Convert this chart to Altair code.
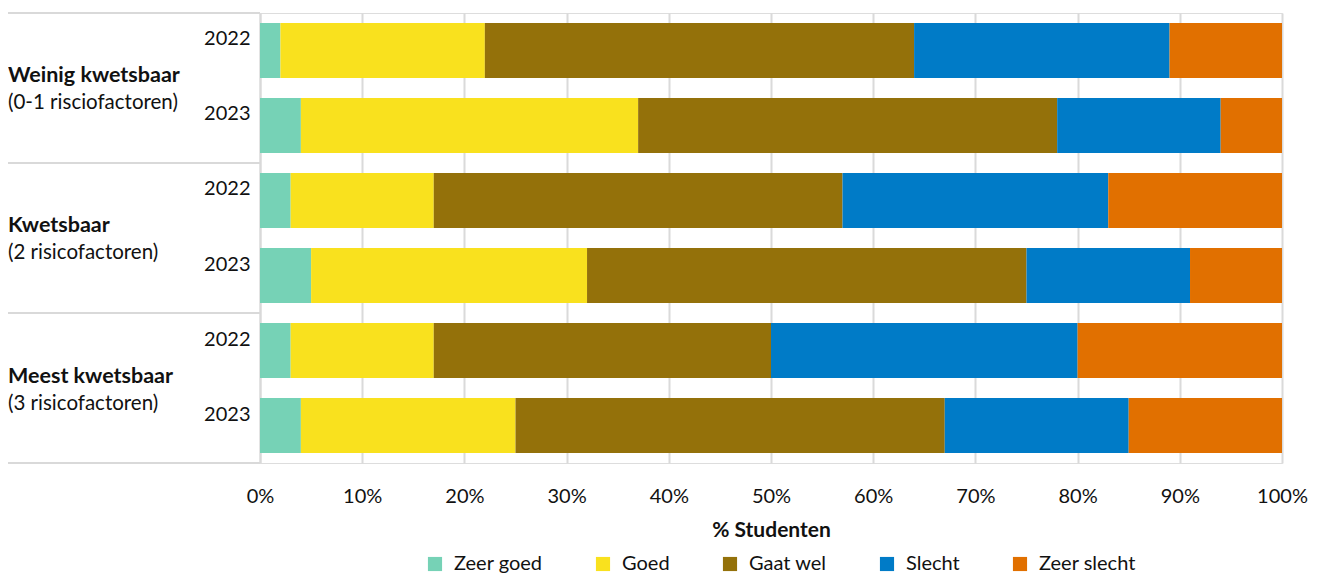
import altair as alt
import pandas as pd

groups = ["Weinig kwetsbaar", "Kwetsbaar", "Meest kwetsbaar"]
subtitles = ["(0-1 risciofactoren)", "(2 risicofactoren)", "(3 risicofactoren)"]
years = ["2022", "2023"]
categories = ["Zeer goed", "Goed", "Gaat wel", "Slecht", "Zeer slecht"]
colors = ["#76D2B6", "#F9E11E", "#94710A", "#007BC7", "#E17000"]

weinig_2022 = [2, 20, 42, 25, 11]
weinig_2023 = [4, 33, 41, 16, 6]
kwetsbaar_2022 = [3, 14, 40, 26, 17]
kwetsbaar_2023 = [5, 27, 43, 16, 9]
meest_2022 = [3, 14, 33, 30, 20]
meest_2023 = [4, 21, 42, 18, 15]

series = [
    [weinig_2022, weinig_2023],
    [kwetsbaar_2022, kwetsbaar_2023],
    [meest_2022, meest_2023],
]

FONT = "Lato"

rows = []
records = []
for g, pair in zip(groups, series):
    for y, vals in zip(years, pair):
        key = f"{g}|{y}"
        rows.append(key)
        for i, (c, v) in enumerate(zip(categories, vals)):
            records.append({"row": key, "cat": c, "idx": i, "value": v})
df = pd.DataFrame(records)

gdf = pd.DataFrame({
    "group": groups,
    "subtitle": subtitles,
    "row": [f"{g}|{years[0]}" for g in groups],
})
last_df = pd.DataFrame({"row": [f"{groups[-1]}|{years[-1]}"]})

W, H = 1022, 450
yscale = alt.Scale(domain=rows, paddingInner=0.2667, paddingOuter=0.1333)

bars = alt.Chart(df).mark_bar().encode(
    y=alt.Y("row:N", sort=rows, scale=yscale,
            axis=alt.Axis(title=None, ticks=False, domain=True, domainColor="#d9d9d9",
                          domainWidth=2, labelExpr="split(datum.value, '|')[1]",
                          labelFontSize=20, labelColor="#111", labelPadding=10,
                          labelOffset=-11, labelFont=FONT, grid=False)),
    x=alt.X("value:Q", stack="zero", scale=alt.Scale(domain=[0, 100], nice=False),
            axis=alt.Axis(title="% Studenten", values=list(range(0, 101, 10)),
                          labelExpr="datum.value + '%'", grid=True, gridColor="#dadada",
                          gridWidth=2, ticks=False, domain=False, labelFontSize=20,
                          labelFlush=False, labelOverlap=False,
                          labelColor="#111", labelPadding=23, labelFont=FONT,
                          titleFont=FONT, titleFontSize=21, titleFontWeight="bold",
                          titleColor="#111", titlePadding=13)),
    color=alt.Color("cat:N", sort=categories,
                    scale=alt.Scale(domain=categories, range=colors),
                    legend=alt.Legend(title=None, orient="none", direction="horizontal",
                                      legendX=165, legendY=541, symbolType="square",
                                      symbolSize=200, symbolStrokeWidth=0,
                                      labelFontSize=20, labelFont=FONT, labelColor="#111",
                                      columnPadding=50, labelOffset=9)),
    order=alt.Order("idx:Q", sort="ascending"),
)

bold_lbl = alt.Chart(gdf).mark_text(
    align="left", baseline="alphabetic", dy=32, fontSize=21.5, fontWeight="bold",
    font=FONT, color="#111"
).encode(
    x=alt.value(-252),
    y=alt.Y("row:N", sort=rows, scale=yscale),
    text="group:N",
)

sub_lbl = alt.Chart(gdf).mark_text(
    align="left", baseline="alphabetic", dy=59, fontSize=20.5,
    font=FONT, color="#111"
).encode(
    x=alt.value(-252),
    y=alt.Y("row:N", sort=rows, scale=yscale),
    text="subtitle:N",
)

sep_top = alt.Chart(gdf).mark_rule(color="#d9d9d9", strokeWidth=2, yOffset=-37.5).encode(
    x=alt.value(-252), x2=alt.value(0),
    y=alt.Y("row:N", sort=rows, scale=yscale),
)
sep_bottom = alt.Chart(last_df).mark_rule(color="#d9d9d9", strokeWidth=2, yOffset=37.5).encode(
    x=alt.value(-252), x2=alt.value(0),
    y=alt.Y("row:N", sort=rows, scale=yscale),
)

chart = alt.layer(bars, sep_top, sep_bottom, bold_lbl, sub_lbl).properties(
    width=W, height=H,
    autosize=alt.AutoSizeParams(type="none"),
    padding={"left": 252, "top": 5, "right": 35, "bottom": 115},
).configure_view(stroke=None).configure(font=FONT)

chart.save("out.html", embed_options={"renderer": "svg", "actions": False})
